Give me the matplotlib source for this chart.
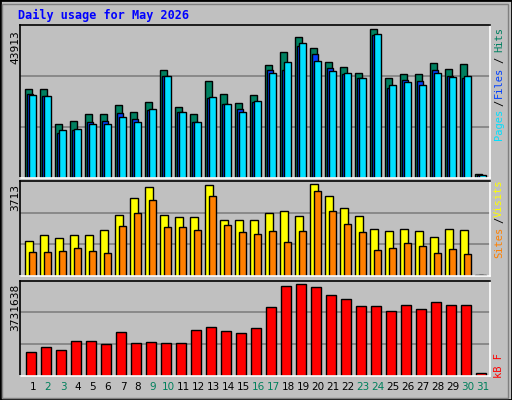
import matplotlib
matplotlib.use("Agg")
import matplotlib.pyplot as plt
from matplotlib.patches import Rectangle

days = list(range(1, 32))
weekend = [2, 3, 9, 10, 16, 17, 23, 24, 30, 31]
hits = [26140, 26140, 15830, 16700, 18770, 18770, 21420, 19360, 22300, 31740, 20830, 18770, 28500, 24670, 22010, 24370,
        33210, 37040, 41460, 38220, 34100, 32620, 30850, 43913, 29380, 30560, 30560, 33800, 32030, 33510, 1270]
files = [24670, 24080, 13170, 14060, 16410, 16710, 19070, 17300, 19950, 29970, 19360, 16410, 23490, 21720, 20250, 22310,
         31740, 31740, 38810, 36450, 32330, 30560, 29380, 42050, 26430, 28790, 28500, 31740, 29970, 29380, 1000]
pages = [24370, 24080, 14060, 14350, 15830, 15830, 17890, 16410, 20250, 29970, 19360, 16410, 23780, 21720, 19360, 22600,
         30850, 34100, 39700, 34390, 31440, 30850, 29380, 42350, 27320, 28200, 27320, 30850, 29670, 29970, 800]
visits = [1413, 1655, 1534, 1655, 1655, 1857, 2462, 3148, 3592, 2462, 2381, 2381, 3673, 2260, 2260, 2260,
          2543, 2623, 2422, 3713, 3229, 2744, 2422, 1897, 1816, 1897, 1816, 1574, 1897, 1857, 50]
sites = [969, 969, 1009, 1130, 1009, 928, 2018, 2543, 3067, 1978, 1978, 1857, 3229, 2058, 1776, 1695,
         1816, 1372, 1816, 3431, 2623, 2099, 1776, 1049, 1130, 1332, 1211, 928, 1090, 888, 40]
kbytes = [952000, 1157000, 1034000, 1402000, 1402000, 1279000, 1770000, 1320000, 1361000, 1320000, 1320000,
          1852000, 1974000, 1811000, 1729000, 1933000, 2792000, 3650000, 3731638, 3609000, 3282000, 3119000,
          2832000, 2832000, 2628000, 2873000, 2710000, 2996000, 2873000, 2873000, 94000]

BG = "#c0c0c0"
W, H = 512, 400
fig = plt.figure(figsize=(W / 100, H / 100), dpi=100, facecolor=BG)
fig.patches.append(Rectangle((0, 0), 1, 1, transform=fig.transFigure, fill=False, ec="black", lw=2))
fig.patches.append(Rectangle((2/W, 2/H), 1-6/W, 1-6/H, transform=fig.transFigure, fill=False, ec="#808080", lw=1))
mono = "DejaVu Sans Mono"

def pax(top, bottom):
    ax = fig.add_axes([20/W, 1-bottom/H, 470/W, (bottom-top)/H])
    ax.set_facecolor(BG)
    ax.set_xlim(0.133, 31.47)
    ax.set_xticks([]); ax.set_yticks([])
    for s in ["left", "top"]:
        ax.spines[s].set_color("black")
    for s in ["right", "bottom"]:
        ax.spines[s].set_color("white")
    for s in ax.spines.values():
        s.set_linewidth(1.2)
    return ax

def grid(ax, ymax):
    ax.set_ylim(0, ymax)
    for f in (1/3, 2/3):
        ax.axhline(ymax*f, color="#808080", lw=1.2, zorder=0)

kw = dict(edgecolor="black", linewidth=1, align="edge", zorder=2)
ax1 = pax(25, 178)
grid(ax1, max(hits) * 153 / 149)
ax1.bar([d - 0.53 for d in days], hits, 0.47, color="#008060", **kw)
ax1.bar([d - 0.40 for d in days], files, 0.4, color="#0040ff", **kw)
ax1.bar([d - 0.27 for d in days], pages, 0.47, color="#00e0ff", **kw)

ax2 = pax(180.7, 276.3)
grid(ax2, max(visits) * 95.6 / 92)
ax2.bar([d - 0.53 for d in days], visits, 0.5, color="#ffff00", **kw)
ax2.bar([d - 0.27 for d in days], sites, 0.5, color="#ff8000", **kw)

ax3 = pax(280.7, 375.7)
grid(ax3, max(kbytes) * 95 / 91.3)
ax3.bar([d - 0.47 for d in days], kbytes, 0.65, color="#ff0000", **kw)
for d in days:
    ax3.text(d, -0.07, str(d), transform=ax3.get_xaxis_transform(), ha="center", va="top",
             fontsize=7.5, family="DejaVu Sans", color="#00805c" if d in weekend else "black")

def ft(x, y, s, **k):
    fig.text(x / W, 1 - y / H, s, family=mono, **k)

ft(18, 15, "Daily usage for May 2026", fontsize=8.5, weight="bold", color="#0000ff", va="center")
ft(15, 30, str(max(hits)), fontsize=8, rotation=90, ha="center", va="top")
ft(15, 184, str(max(visits)), fontsize=8, rotation=90, ha="center", va="top")
ft(15, 284, str(max(kbytes)), fontsize=8, rotation=90, ha="center", va="top")

for s, y, c in [("Hits", 40, "#008060"), ("/", 60, "black"), ("Files", 82, "#0040ff"), ("/", 103, "black"),
                ("Pages", 124, "#00e0ff"), ("Visits", 198, "#ffff00"), ("/", 220, "black"),
                ("Sites", 242, "#ff8000"), ("kB F", 365, "#ff0000")]:
    ft(499, y, s, fontsize=7.5, rotation=90, ha="center", va="center", color=c)

fig.savefig("out.png", dpi=100, facecolor=BG)
